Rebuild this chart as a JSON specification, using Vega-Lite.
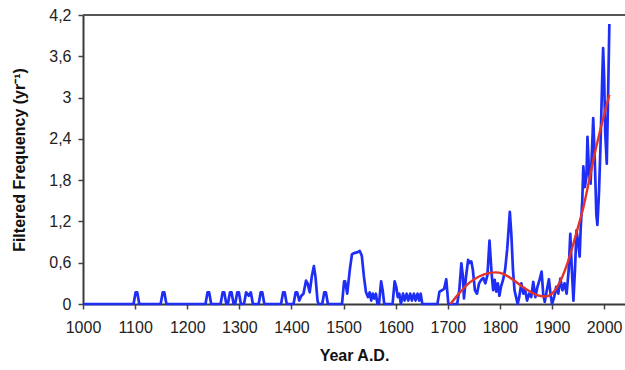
{
  "$schema": "https://vega.github.io/schema/vega-lite/v6.json",
  "width": 542,
  "height": 289,
  "autosize": {"type": "none"},
  "padding": {"left": 83, "top": 15, "right": 0, "bottom": 66},
  "config": {
    "view": {"stroke": null},
    "font": "Liberation Sans",
    "axis": {
      "domainColor": "#3a3a3a",
      "domainWidth": 2,
      "tickColor": "#444444",
      "tickWidth": 1.5,
      "tickSize": 5,
      "grid": false,
      "labelFontSize": 16,
      "labelColor": "#222222",
      "labelFlush": false,
      "labelOverlap": false,
      "titleFontSize": 16,
      "titleFontWeight": "bold",
      "titleColor": "#111111"
    }
  },
  "datasets": {
    "blue": [
      {"year": 1000, "f": 0}, {"year": 1097, "f": 0}, {"year": 1101, "f": 0.17}, {"year": 1104, "f": 0.17}, {"year": 1108, "f": 0},
      {"year": 1149, "f": 0}, {"year": 1153, "f": 0.17}, {"year": 1156, "f": 0.17}, {"year": 1160, "f": 0},
      {"year": 1235, "f": 0}, {"year": 1239, "f": 0.17}, {"year": 1242, "f": 0.17}, {"year": 1246, "f": 0},
      {"year": 1264, "f": 0}, {"year": 1268, "f": 0.17}, {"year": 1271, "f": 0.17}, {"year": 1275, "f": 0},
      {"year": 1278, "f": 0}, {"year": 1282, "f": 0.17}, {"year": 1285, "f": 0.17}, {"year": 1289, "f": 0},
      {"year": 1292, "f": 0}, {"year": 1296, "f": 0.17}, {"year": 1299, "f": 0.17}, {"year": 1303, "f": 0},
      {"year": 1309, "f": 0}, {"year": 1313, "f": 0.17}, {"year": 1318, "f": 0.12}, {"year": 1322, "f": 0.17}, {"year": 1326, "f": 0},
      {"year": 1337, "f": 0}, {"year": 1341, "f": 0.17}, {"year": 1344, "f": 0.17}, {"year": 1348, "f": 0},
      {"year": 1380, "f": 0}, {"year": 1384, "f": 0.17}, {"year": 1387, "f": 0.17}, {"year": 1391, "f": 0},
      {"year": 1404, "f": 0}, {"year": 1408, "f": 0.17}, {"year": 1411, "f": 0.17}, {"year": 1415, "f": 0.05}, {"year": 1419, "f": 0.12}, {"year": 1423, "f": 0.15},
      {"year": 1428, "f": 0.34}, {"year": 1431, "f": 0.3}, {"year": 1435, "f": 0.17}, {"year": 1439, "f": 0.4}, {"year": 1443, "f": 0.55}, {"year": 1446, "f": 0.4}, {"year": 1450, "f": 0.05}, {"year": 1452, "f": 0},
      {"year": 1459, "f": 0}, {"year": 1463, "f": 0.17}, {"year": 1466, "f": 0.17}, {"year": 1470, "f": 0},
      {"year": 1497, "f": 0}, {"year": 1501, "f": 0.33}, {"year": 1503, "f": 0.33}, {"year": 1507, "f": 0.15}, {"year": 1512, "f": 0.5}, {"year": 1516, "f": 0.72},
      {"year": 1520, "f": 0.74}, {"year": 1526, "f": 0.75}, {"year": 1531, "f": 0.77}, {"year": 1535, "f": 0.7}, {"year": 1539, "f": 0.4}, {"year": 1543, "f": 0.17},
      {"year": 1547, "f": 0.1}, {"year": 1550, "f": 0.17}, {"year": 1553, "f": 0.05}, {"year": 1556, "f": 0.15}, {"year": 1559, "f": 0.08}, {"year": 1562, "f": 0.15}, {"year": 1565, "f": 0},
      {"year": 1568, "f": 0}, {"year": 1572, "f": 0.33}, {"year": 1575, "f": 0.2}, {"year": 1578, "f": 0},
      {"year": 1594, "f": 0}, {"year": 1598, "f": 0.33}, {"year": 1601, "f": 0.25}, {"year": 1604, "f": 0.1}, {"year": 1607, "f": 0.15}, {"year": 1610, "f": 0},
      {"year": 1614, "f": 0.15}, {"year": 1617, "f": 0.05}, {"year": 1621, "f": 0.15}, {"year": 1624, "f": 0.05}, {"year": 1628, "f": 0.15}, {"year": 1631, "f": 0.05},
      {"year": 1635, "f": 0.15}, {"year": 1638, "f": 0.05}, {"year": 1642, "f": 0.15}, {"year": 1645, "f": 0.05}, {"year": 1648, "f": 0.15}, {"year": 1651, "f": 0},
      {"year": 1680, "f": 0}, {"year": 1684, "f": 0.18}, {"year": 1689, "f": 0.2}, {"year": 1693, "f": 0.22}, {"year": 1697, "f": 0.36}, {"year": 1701, "f": 0},
      {"year": 1718, "f": 0}, {"year": 1722, "f": 0.2}, {"year": 1726, "f": 0.59}, {"year": 1729, "f": 0.4}, {"year": 1731, "f": 0.08}, {"year": 1735, "f": 0.4},
      {"year": 1739, "f": 0.64}, {"year": 1742, "f": 0.6}, {"year": 1745, "f": 0.62}, {"year": 1748, "f": 0.5}, {"year": 1752, "f": 0.2}, {"year": 1756, "f": 0.15},
      {"year": 1760, "f": 0.3}, {"year": 1764, "f": 0.35}, {"year": 1768, "f": 0.38}, {"year": 1772, "f": 0.3}, {"year": 1776, "f": 0.42}, {"year": 1780, "f": 0.92},
      {"year": 1784, "f": 0.45}, {"year": 1787, "f": 0.2}, {"year": 1790, "f": 0.35}, {"year": 1793, "f": 0.18}, {"year": 1796, "f": 0.3}, {"year": 1799, "f": 0.12},
      {"year": 1802, "f": 0.25}, {"year": 1806, "f": 0.35}, {"year": 1810, "f": 0.5}, {"year": 1814, "f": 0.8}, {"year": 1819, "f": 1.34}, {"year": 1822, "f": 1.0},
      {"year": 1825, "f": 0.5}, {"year": 1828, "f": 0.2}, {"year": 1831, "f": 0.1}, {"year": 1834, "f": 0}, {"year": 1837, "f": 0.1}, {"year": 1841, "f": 0.3},
      {"year": 1845, "f": 0.15}, {"year": 1848, "f": 0.22}, {"year": 1852, "f": 0.05}, {"year": 1856, "f": 0.15}, {"year": 1860, "f": 0.1}, {"year": 1864, "f": 0.32},
      {"year": 1868, "f": 0.1}, {"year": 1872, "f": 0.25}, {"year": 1876, "f": 0.35}, {"year": 1880, "f": 0.47}, {"year": 1883, "f": 0.15}, {"year": 1886, "f": 0.03},
      {"year": 1890, "f": 0.2}, {"year": 1894, "f": 0.36}, {"year": 1897, "f": 0.15}, {"year": 1900, "f": 0}, {"year": 1904, "f": 0.1}, {"year": 1908, "f": 0.25},
      {"year": 1912, "f": 0.15}, {"year": 1916, "f": 0.37}, {"year": 1920, "f": 0.2}, {"year": 1924, "f": 0.3}, {"year": 1928, "f": 0.15}, {"year": 1932, "f": 0.5},
      {"year": 1935, "f": 1.02}, {"year": 1938, "f": 0.5}, {"year": 1941, "f": 0.05}, {"year": 1944, "f": 0.5}, {"year": 1947, "f": 1.07}, {"year": 1950, "f": 0.9},
      {"year": 1953, "f": 0.69}, {"year": 1955, "f": 1.1}, {"year": 1958, "f": 1.5}, {"year": 1960, "f": 2.0}, {"year": 1963, "f": 1.7}, {"year": 1966, "f": 1.85},
      {"year": 1968, "f": 2.43}, {"year": 1971, "f": 1.9}, {"year": 1974, "f": 1.75}, {"year": 1977, "f": 2.3}, {"year": 1979, "f": 2.7}, {"year": 1982, "f": 2.1},
      {"year": 1985, "f": 1.3}, {"year": 1987, "f": 1.15}, {"year": 1990, "f": 1.6}, {"year": 1993, "f": 2.3}, {"year": 1996, "f": 3.2}, {"year": 1998, "f": 3.72},
      {"year": 2000, "f": 3.3}, {"year": 2002, "f": 2.5}, {"year": 2005, "f": 2.04}, {"year": 2007, "f": 2.8}, {"year": 2010, "f": 4.07}
    ],
    "red": [
      {"year": 1705, "f": 0}, {"year": 1720, "f": 0.14}, {"year": 1740, "f": 0.3}, {"year": 1760, "f": 0.4}, {"year": 1780, "f": 0.45},
      {"year": 1792, "f": 0.46}, {"year": 1805, "f": 0.44}, {"year": 1820, "f": 0.38}, {"year": 1840, "f": 0.27}, {"year": 1860, "f": 0.17},
      {"year": 1875, "f": 0.12}, {"year": 1888, "f": 0.11}, {"year": 1900, "f": 0.15}, {"year": 1910, "f": 0.25}, {"year": 1920, "f": 0.4},
      {"year": 1930, "f": 0.6}, {"year": 1940, "f": 0.85}, {"year": 1950, "f": 1.12}, {"year": 1960, "f": 1.4}, {"year": 1970, "f": 1.75},
      {"year": 1980, "f": 2.12}, {"year": 1990, "f": 2.45}, {"year": 2000, "f": 2.75}, {"year": 2010, "f": 3.04}
    ]
  },
  "layer": [
    {
      "data": {"name": "blue"},
      "mark": {"type": "line", "color": "#1f2ef5", "strokeWidth": 2.7, "strokeJoin": "round"},
      "encoding": {
        "x": {
          "field": "year", "type": "quantitative",
          "scale": {"domain": [1000, 2040], "nice": false, "zero": false},
          "axis": {
            "values": [1000, 1100, 1200, 1300, 1400, 1500, 1600, 1700, 1800, 1900, 2000],
            "format": "d",
            "labelPadding": 10,
            "title": "Year A.D.",
            "titlePadding": 12
          }
        },
        "y": {
          "field": "f", "type": "quantitative",
          "scale": {"domain": [0, 4.2], "nice": false},
          "axis": {
            "values": [0, 0.6, 1.2, 1.8, 2.4, 3, 3.6, 4.2],
            "labelExpr": "replace(format(datum.value, '~g'), '.', ',')",
            "labelPadding": 7,
            "title": "Filtered Frequency (yr⁻¹)",
            "titlePadding": 21
          }
        }
      }
    },
    {
      "data": {"name": "red"},
      "mark": {"type": "line", "color": "#e3342b", "strokeWidth": 2.4, "interpolate": "monotone"},
      "encoding": {
        "x": {"field": "year", "type": "quantitative"},
        "y": {"field": "f", "type": "quantitative"}
      }
    },
    {
      "data": {"values": [{}]},
      "mark": {"type": "rule", "color": "#555555", "strokeWidth": 2},
      "encoding": {"y": {"datum": 4.2}}
    }
  ]
}
